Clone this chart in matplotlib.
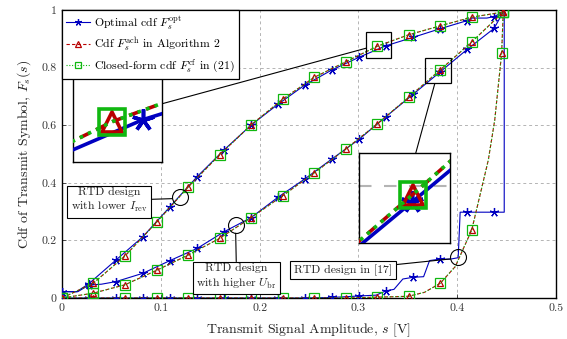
import numpy as np
import matplotlib
matplotlib.use("Agg")
import matplotlib.pyplot as plt
from matplotlib.lines import Line2D
from matplotlib.patches import Rectangle

plt.rcParams["font.family"] = "serif"
plt.rcParams["font.serif"] = ["cmr10", "DejaVu Serif"]
plt.rcParams["mathtext.fontset"] = "cm"
plt.rcParams["axes.formatter.use_mathtext"] = True

# --- data ---
# marker grid of the achievable / closed-form cdfs
s_grid = [0, 0.0319, 0.0638, 0.0957, 0.1276, 0.1595, 0.1914, 0.2233,
          0.2552, 0.2871, 0.3190, 0.3509, 0.3828, 0.4147, 0.4466]

# design with lower I_rev
cf_A = [0, 0.052, 0.146, 0.263, 0.385, 0.497, 0.601, 0.690,
        0.766, 0.820, 0.874, 0.914, 0.945, 0.975, 0.993]
ach_A = [0, 0.052, 0.146, 0.263, 0.385, 0.497, 0.601, 0.690,
         0.766, 0.820, 0.874, 0.914, 0.945, 0.975, 0.993]
# design with higher U_br
cf_B = [0, 0.017, 0.046, 0.096, 0.149, 0.207, 0.279, 0.355,
        0.434, 0.517, 0.604, 0.697, 0.792, 0.889, 0.993]
ach_B = [0, 0.017, 0.046, 0.096, 0.149, 0.207, 0.279, 0.355,
         0.434, 0.517, 0.604, 0.697, 0.792, 0.889, 0.993]
# design in [17] (steep rise at the end)
s_C = [0, 0.0319, 0.0638, 0.0957, 0.1276, 0.1595, 0.1914, 0.2233,
       0.2552, 0.2871, 0.3190, 0.3509, 0.367, 0.3828, 0.398, 0.4147,
       0.4315, 0.438, 0.4450, 0.4466]
cf_C = [0, 0, 0, 0, 0, 0, 0, 0, 0, 0, 0.003, 0.006, 0.02, 0.051, 0.109,
        0.236, 0.479, 0.618, 0.850, 0.993]
ach_C = [0, 0, 0, 0, 0, 0, 0, 0, 0, 0, 0.003, 0.006, 0.02, 0.051, 0.109,
         0.236, 0.479, 0.618, 0.850, 0.993]
marks_C = [0, 1, 2, 3, 4, 5, 6, 7, 8, 9, 10, 11, 13, 15, 18, 19]

# optimal cdfs: star positions
s_star = [0, 0.0273, 0.0547, 0.0820, 0.1093, 0.1367, 0.1640, 0.1913, 0.2187,
          0.2460, 0.2733, 0.3007, 0.3280, 0.3553, 0.3827, 0.4100, 0.4373]
opt_A_star = [0.022, 0.05, 0.132, 0.213, 0.317, 0.421, 0.514, 0.600, 0.673,
              0.740, 0.792, 0.836, 0.876, 0.905, 0.935, 0.963, 0.977]
opt_B_star = [0.022, 0.045, 0.057, 0.086, 0.130, 0.172, 0.230, 0.279, 0.350,
              0.414, 0.483, 0.551, 0.630, 0.707, 0.785, 0.863, 0.936]
opt_C_star = [0, 0, 0, 0, 0, 0, 0, 0, 0, 0, 0.002, 0.007, 0.025, 0.072,
              0.135, 0.298, 0.298]

# optimal cdfs: staircase vertices
opt_A_s = [0, 0.015, 0.0273, 0.0547, 0.0820, 0.1093, 0.1367, 0.1640, 0.1913,
           0.2187, 0.2460, 0.2733, 0.3007, 0.3280, 0.3553, 0.3827, 0.4100,
           0.4147, 0.4300, 0.4373, 0.4466]
opt_A = [0.022, 0.022, 0.05, 0.132, 0.213, 0.317, 0.421, 0.514, 0.600,
         0.673, 0.740, 0.792, 0.836, 0.876, 0.905, 0.935, 0.963,
         0.972, 0.972, 0.977, 0.993]
opt_B_s = [0, 0.016, 0.0273, 0.0400, 0.0547, 0.0820, 0.1093, 0.1367, 0.1640,
           0.1913, 0.2187, 0.2460, 0.2733, 0.3007, 0.3280, 0.3553, 0.3827,
           0.4100, 0.4373, 0.4466]
opt_B = [0.022, 0.022, 0.045, 0.048, 0.057, 0.086, 0.130, 0.172, 0.230,
         0.279, 0.350, 0.414, 0.483, 0.551, 0.630, 0.707, 0.785,
         0.863, 0.936, 0.993]
opt_C_s = [0, 0.2460, 0.2733, 0.3007, 0.3180, 0.3280, 0.3360, 0.3450, 0.3553,
           0.3660, 0.3720, 0.3827, 0.3930, 0.4010, 0.4030, 0.4100, 0.4373,
           0.4476, 0.4476]
opt_C = [0, 0, 0.002, 0.007, 0.010, 0.025, 0.030, 0.066, 0.072,
         0.074, 0.130, 0.135, 0.135, 0.140, 0.298, 0.298, 0.298,
         0.298, 0.993]

x_ticks = [0, 0.1, 0.2, 0.3, 0.4, 0.5]
x_ticklabels = ["0", "0.1", "0.2", "0.3", "0.4", "0.5"]
y_ticks = [0, 0.2, 0.4, 0.6, 0.8, 1.0]
y_ticklabels = ["0", "0.2", "0.4", "0.6", "0.8", "1"]

BLUE = "#0000c0"
RED = "#b80000"
GREEN = "#10b810"
GRID = "#b4b4b4"


def draw_curves(ax, lw, ms_sq, ms_tri, ms_star, mew):
    for xs, ys in [(opt_A_s, opt_A), (opt_B_s, opt_B), (opt_C_s, opt_C)]:
        ax.plot(xs, ys, color=BLUE, lw=lw, zorder=3)
    for ys in [opt_A_star, opt_B_star, opt_C_star]:
        ax.plot(s_star, ys, ls="none", marker=(5, 2, 0), ms=ms_star,
                mec=BLUE, mew=mew, zorder=4)
    for xs, ys, mk in [(s_grid, ach_A, None), (s_grid, ach_B, None),
                       (s_C, ach_C, marks_C)]:
        ax.plot(xs, ys, color=RED, lw=lw, ls=(0, (3, 2)), marker="^",
                ms=ms_tri, mfc="none", mec=RED, mew=mew, markevery=mk,
                zorder=5)
    for xs, ys, mk in [(s_grid, cf_A, None), (s_grid, cf_B, None),
                       (s_C, cf_C, marks_C)]:
        ax.plot(xs, ys, color=GREEN, lw=lw, ls=(0, (1, 1.5)), marker="s",
                ms=ms_sq, mfc="none", mec=GREEN, mew=mew, markevery=mk,
                zorder=6)


fig = plt.figure(figsize=(5.67, 3.39), dpi=100)
ax = fig.add_axes([0.1093, 0.1209, 0.8713, 0.8496])

draw_curves(ax, lw=0.8, ms_sq=7, ms_tri=5, ms_star=6.5, mew=0.9)

ax.set_xticks(x_ticks)
ax.set_xticklabels(x_ticklabels)
ax.set_yticks(y_ticks)
ax.set_yticklabels(y_ticklabels)
ax.set_xlim(0, 0.5)
ax.set_ylim(0, 1)
ax.tick_params(direction="in", length=3, width=0.6, labelsize=8.5,
               colors="#333333", pad=4)
ax.grid(True, color=GRID, ls=(0, (3, 3)), lw=0.7)
for sp in ax.spines.values():
    sp.set_linewidth(1.0)
ax.set_xlabel("Transmit Signal Amplitude, $s$ [V]", fontsize=10, color="#222222",
              labelpad=6)
ax.set_ylabel("Cdf of Transmit Symbol, $F_s(s)$", fontsize=10, color="#222222",
              labelpad=6)

handles = [
    Line2D([], [], color=BLUE, lw=0.8, marker=(5, 2, 0), ms=5, mew=0.9),
    Line2D([], [], color=RED, lw=0.8, ls=(0, (3, 2)), marker="^", ms=4.5,
           mfc="none", mew=0.9),
    Line2D([], [], color=GREEN, lw=0.8, ls=(0, (1, 1.5)), marker="s", ms=5,
           mfc="none", mew=0.9),
]
labels = [r"Optimal cdf $F_s^{\rm opt}$",
          r"Cdf $F_s^{\rm ach}$ in Algorithm 2",
          r"Closed-form cdf $F_s^{\rm cf}$ in (21)"]
leg = ax.legend(handles, labels, loc="upper left", bbox_to_anchor=(0, 1),
                borderaxespad=0, fancybox=False, edgecolor="black",
                framealpha=1, fontsize=8.5, handlelength=2.0,
                handletextpad=0.4, borderpad=0.35, labelspacing=0.3)
leg.get_frame().set_linewidth(0.9)
leg.set_zorder(20)

# zoom insets
insets = [
    ([0.0217, 0.473, 0.180, 0.309], (0.3074, 0.3334), (0.834, 0.9226),
     (0.1008, 0.674), (0.3074, 0.867)),
    ([0.602, 0.192, 0.1836, 0.310], (0.3678, 0.3934), (0.7455, 0.832),
     (0.358, 0.5024), (0.3772, 0.743)),
]
for bounds, xl, yl, p_from, p_to in insets:
    ax.add_patch(Rectangle((xl[0], yl[0]), xl[1] - xl[0], yl[1] - yl[0],
                           fill=False, ec="black", lw=0.9, zorder=8))
    ax.plot([p_from[0], p_to[0]], [p_from[1], p_to[1]], color="black",
            lw=0.8, zorder=8)
    ins = ax.inset_axes(bounds, zorder=10)
    draw_curves(ins, lw=2.6, ms_sq=19, ms_tri=14, ms_star=16, mew=2.6)
    ins.set_xticks(x_ticks)
    ins.set_yticks(y_ticks)
    ins.set_xlim(*xl)
    ins.set_ylim(*yl)
    ins.tick_params(length=0, labelbottom=False, labelleft=False)
    ins.grid(True, color=GRID, ls=(0, (6, 6)), lw=1.5)
    for sp in ins.spines.values():
        sp.set_linewidth(1.0)

# annotations for the three designs
notes = [
    ("RTD design\nwith lower $I_{\\rm rev}$", (0.0474, 0.338),
     (0.1194, 0.352), (0.1113, 0.345)),
    ("RTD design\nwith higher $U_{\\rm br}$", (0.1767, 0.073),
     (0.1758, 0.253), (0.1758, 0.225)),
    ("RTD design in [17]", (0.2845, 0.097),
     (0.4005, 0.1434), (0.3925, 0.1354)),
]
for txt, xytext, circ, tip in notes:
    ax.plot([circ[0]], [circ[1]], ls="none", marker="o", ms=11.5,
            mfc="none", mec="black", mew=0.8, zorder=9)
    ax.annotate(txt, xy=tip, xytext=xytext, ha="center", va="center",
                fontsize=8.5, color="#222222", linespacing=1.3,
                bbox=dict(boxstyle="square,pad=0.3", fc="white", ec="black",
                          lw=0.8),
                arrowprops=dict(arrowstyle="-", lw=0.8, color="black",
                                shrinkA=0, shrinkB=0),
                zorder=9)

fig.savefig("out.png", dpi=100)
